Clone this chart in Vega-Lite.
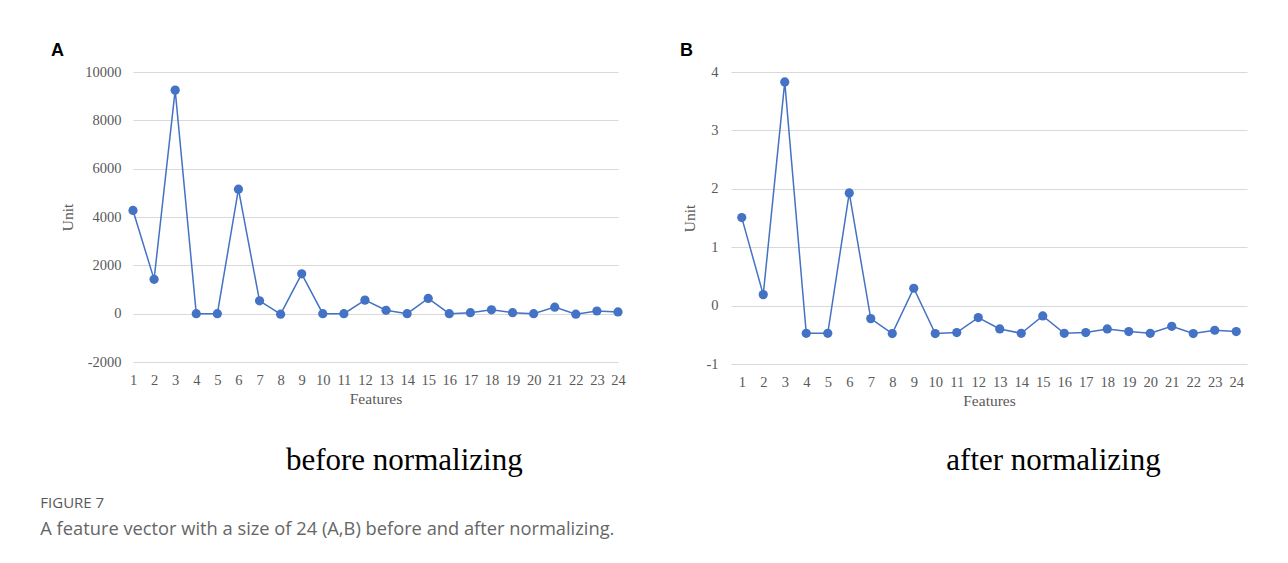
{
  "$schema": "https://vega.github.io/schema/vega-lite/v6.json",
  "background": "white",
  "padding": {"left": 40, "top": 42, "right": 5, "bottom": 5},
  "datasets": {
    "fv": [
      {"f": 1, "before": 4270, "after": 1.507},
      {"f": 2, "before": 1420, "after": 0.188},
      {"f": 3, "before": 9250, "after": 3.83},
      {"f": 4, "before": 0, "after": -0.474},
      {"f": 5, "before": 0, "after": -0.474},
      {"f": 6, "before": 5150, "after": 1.929},
      {"f": 7, "before": 530, "after": -0.223},
      {"f": 8, "before": -20, "after": -0.479},
      {"f": 9, "before": 1650, "after": 0.297},
      {"f": 10, "before": 0, "after": -0.479},
      {"f": 11, "before": 0, "after": -0.462},
      {"f": 12, "before": 560, "after": -0.205},
      {"f": 13, "before": 140, "after": -0.4},
      {"f": 14, "before": 0, "after": -0.474},
      {"f": 15, "before": 630, "after": -0.177},
      {"f": 16, "before": 0, "after": -0.474},
      {"f": 17, "before": 40, "after": -0.462},
      {"f": 18, "before": 160, "after": -0.4},
      {"f": 19, "before": 40, "after": -0.445},
      {"f": 20, "before": 0, "after": -0.474},
      {"f": 21, "before": 270, "after": -0.354},
      {"f": 22, "before": -20, "after": -0.479},
      {"f": 23, "before": 110, "after": -0.422},
      {"f": 24, "before": 70, "after": -0.445}
    ]
  },
  "title": {
    "text": "FIGURE 7",
    "subtitle": "A feature vector with a size of 24 (A,B) before and after normalizing.",
    "orient": "bottom",
    "anchor": "start",
    "frame": "group",
    "dx": -92.7,
    "offset": 20,
    "font": "Open Sans",
    "fontSize": 15,
    "fontWeight": "normal",
    "color": "#595959",
    "subtitleFont": "Open Sans",
    "subtitleFontSize": 18.3,
    "subtitleColor": "#666666",
    "subtitlePadding": 10
  },
  "spacing": 54,
  "hconcat": [
    {
      "title": {"text": "before normalizing", "orient": "bottom", "anchor": "middle", "frame": "group", "dx": 271.3, "offset": 39, "font": "Liberation Serif", "fontSize": 31, "fontWeight": "normal", "color": "#000000"},
      "vconcat": [
        {
          "data": {"name": "fv"},
          "width": 485,
          "height": 290,
          "title": {"text": "A", "anchor": "start", "frame": "group", "dx": -82, "offset": -10, "baseline": "alphabetic", "font": "Liberation Sans", "fontSize": 18, "fontWeight": "bold", "color": "#000000"},
          "encoding": {
            "x": {"field": "f", "type": "ordinal", "scale": {"type": "point", "padding": 0}, "axis": {"title": "Features", "labelAngle": 0}},
            "y": {"field": "before", "type": "quantitative", "scale": {"domain": [-2000, 10000], "nice": false, "zero": false}, "axis": {"title": "Unit", "values": [-2000, 0, 2000, 4000, 6000, 8000, 10000], "labelExpr": "'' + datum.value", "labelPadding": 12, "titlePadding": 9}}
          },
          "layer": [
            {"mark": {"type": "line", "color": "#4472c4", "strokeWidth": 1.5}, "encoding": {}},
            {"mark": {"type": "point", "filled": true, "size": 85, "color": "#4472c4", "opacity": 1}}
          ]
        }
      ]
    },
    {
      "title": {"text": "after normalizing", "orient": "bottom", "anchor": "middle", "frame": "group", "dx": 322.5, "offset": 37, "font": "Liberation Serif", "fontSize": 31, "fontWeight": "normal", "color": "#000000"},
      "vconcat": [
        {
          "data": {"name": "fv"},
          "width": 516,
          "height": 292,
          "title": {"text": "B", "anchor": "start", "frame": "group", "dx": -51, "offset": -10, "baseline": "alphabetic", "font": "Liberation Sans", "fontSize": 18, "fontWeight": "bold", "color": "#000000"},
          "encoding": {
            "x": {"field": "f", "type": "ordinal", "scale": {"type": "point", "padding": 0.5}, "axis": {"title": "Features", "labelAngle": 0}},
            "y": {"field": "after", "type": "quantitative", "scale": {"domain": [-1, 4], "nice": false, "zero": false}, "axis": {"title": "Unit", "values": [-1, 0, 1, 2, 3, 4], "labelExpr": "'' + datum.value", "labelPadding": 13, "titlePadding": 8}}
          },
          "layer": [
            {"mark": {"type": "line", "color": "#4472c4", "strokeWidth": 1.5}, "encoding": {}},
            {"mark": {"type": "point", "filled": true, "size": 85, "color": "#4472c4", "opacity": 1}}
          ]
        }
      ]
    }
  ],
  "config": {
    "view": {"stroke": null},
    "axis": {
      "labelFont": "Liberation Serif",
      "labelFontSize": 14.5,
      "labelColor": "#595959",
      "titleFont": "Liberation Serif",
      "titleFontSize": 15.5,
      "titleFontWeight": "normal",
      "titleColor": "#595959",
      "domain": false,
      "ticks": false,
      "gridColor": "#d9d9d9",
      "gridWidth": 1
    },
    "axisX": {"grid": false, "labelPadding": 11, "titlePadding": 5},
    "axisY": {"grid": true}
  }
}
